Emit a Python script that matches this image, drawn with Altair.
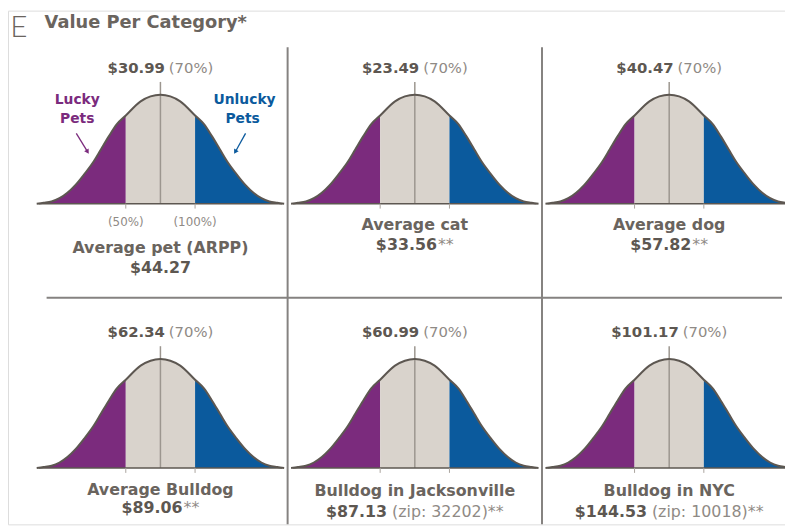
import altair as alt
import pandas as pd

# ---------------- values ----------------
panel_letter = "E"
chart_title = "Value Per Category*"
panel_titles = ["Average pet (ARPP)", "Average cat", "Average dog",
                "Average Bulldog", "Bulldog in Jacksonville", "Bulldog in NYC"]
lucky_values = ["$30.99", "$23.49", "$40.47", "$62.34", "$60.99", "$101.17"]
lucky_shares = ["(70%)", "(70%)", "(70%)", "(70%)", "(70%)", "(70%)"]
avg_values = ["$44.27", "$33.56", "$57.82", "$89.06", "$87.13", "$144.53"]
avg_notes = ["", "**", "**", "**", "(zip: 32202)**", "(zip: 10018)**"]
band_labels = ["(50%)", "(100%)"]
side_words = [["Lucky", "Pets"], ["Unlucky", "Pets"]]
segments = ["Lucky", "Middle", "Unlucky"]
segment_colors = ["#7b2b7d", "#d9d3cc", "#0b5a9d"]

# bell-curve outline: distance from centre (fraction of
# half-width) and height relative to the peak
shape_u = [0.0, 0.08, 0.16, 0.28, 0.352, 0.416, 0.48, 0.544, 0.616, 0.688, 0.752, 0.816, 0.88, 0.944, 1.0]
shape_h = [1.0, 0.985, 0.94, 0.81, 0.73, 0.62, 0.50, 0.38, 0.27, 0.17, 0.10, 0.05, 0.02, 0.008, 0.0]
band_edge = 0.28  # where the 50% and 100% marks sit

# ---------------- layout ----------------
W, H = 785, 519
COL_PX, ROW_PX, PEAK_PX, HALF_PX = 257, 267, 110, 125
CX0, BASE0 = 154, 195          # first panel centre / baseline in plot pixels
FONT = "DejaVu Sans"
DARK = "#5d5751"
MID = "#6a645e"
LIGHT = "#8f8a85"

xs = alt.Scale(domain=[-CX0 / COL_PX, (W - CX0) / COL_PX], nice=False, zero=False)
ys = alt.Scale(domain=[(BASE0 - H) / PEAK_PX, BASE0 / PEAK_PX], nice=False, zero=False)


def ux(col, dx_px=0.0):
    return col + dx_px / COL_PX


def uy(row, dy_px=0.0):
    return -row * ROW_PX / PEAK_PX + dy_px / PEAK_PX


BOLD_W = {**{d: .696 for d in "0123456789"}, "$": .696, ".": .38, " ": .348, "*": .523,
          "(": .457, ")": .457, "%": 1.002, ":": .4, "z": .58, "i": .343, "p": .716}
REG_W = {**{d: .636 for d in "0123456789"}, "$": .636, ".": .318, " ": .318, "*": .5,
         "(": .39, ")": .39, "%": .95, ":": .337, "z": .525, "i": .278, "p": .635}


def text_width(s, size, bold):
    table = BOLD_W if bold else REG_W
    return sum(table.get(ch, .65) for ch in s) * size


full_u = [-u for u in reversed(shape_u[1:])] + shape_u
full_h = list(reversed(shape_h[1:])) + shape_h
hw = HALF_PX / COL_PX

area_rows, line_rows, base_rows, centre_rows, tick_rows = [], [], [], [], []
top_b, top_n, t1_rows, v_b, v_n = [], [], [], [], []
title_dy = [45, 22, 22, 22, 23, 23]
value_dy = [65, 42, 42, 41, 45, 45]

for i in range(6):
    col, row = i % 3, i // 3
    base = uy(row)
    for u, h in zip(full_u, full_h):
        x = col + u * hw
        line_rows.append({"panel": i, "x": x, "y": base + h})
        if u <= -band_edge:
            area_rows.append({"panel": i, "seg": segments[0], "x": x, "y": base + h, "y0": base})
        if -band_edge <= u <= band_edge:
            area_rows.append({"panel": i, "seg": segments[1], "x": x, "y": base + h, "y0": base})
        if u >= band_edge:
            area_rows.append({"panel": i, "seg": segments[2], "x": x, "y": base + h, "y0": base})
    base_rows.append({"panel": i, "x": ux(col, -123), "x2": ux(col, 123), "y": base})
    centre_rows.append({"panel": i, "x": ux(col), "y": base, "y2": uy(row, 123)})
    for s in (-1, 1):
        tick_rows.append({"panel": i, "x": col + s * band_edge * hw, "y": base, "y2": uy(row, -5)})

    # top label: bold value + light share, centred together
    fs = 15
    wb = text_width(lucky_values[i], fs, True)
    wn = text_width(lucky_shares[i], fs, False)
    gap = 4
    left = CX0 + col * COL_PX - (wb + gap + wn) / 2
    top_b.append({"x": (left + wb - CX0) / COL_PX, "y": uy(row, 137.5), "t": lucky_values[i]})
    top_n.append({"x": (left + wb + gap - CX0) / COL_PX, "y": uy(row, 137.5), "t": lucky_shares[i]})

    t1_rows.append({"x": ux(col), "y": uy(row, -title_dy[i]), "t": panel_titles[i]})
    fs2 = 16
    if avg_notes[i]:
        wb = text_width(avg_values[i], fs2, True)
        wn = text_width(avg_notes[i], fs2, False)
        gap = 5 if avg_notes[i].startswith("(") else 1
        left = CX0 + col * COL_PX - (wb + gap + wn) / 2
        v_b.append({"x": (left + wb - CX0) / COL_PX, "y": uy(row, -value_dy[i]), "t": avg_values[i], "a": "right"})
        v_n.append({"x": (left + wb + gap - CX0) / COL_PX, "y": uy(row, -value_dy[i]), "t": avg_notes[i]})
    else:
        v_b.append({"x": ux(col), "y": uy(row, -value_dy[i]), "t": avg_values[i], "a": "center"})

X = lambda f="x": alt.X(f"{f}:Q", scale=xs, axis=None)
Y = lambda f="y": alt.Y(f"{f}:Q", scale=ys, axis=None)

areas = alt.Chart(pd.DataFrame(area_rows)).mark_area(interpolate="monotone").encode(
    x=X(), y=alt.Y("y:Q", scale=ys, axis=None, stack=None), y2="y0:Q",
    color=alt.Color("seg:N", scale=alt.Scale(domain=segments, range=segment_colors), legend=None),
    detail="panel:N",
)
centre = alt.Chart(pd.DataFrame(centre_rows)).mark_rule(color="#9c968f", strokeWidth=1.5).encode(
    x=X(), y=Y(), y2="y2:Q")
outline = alt.Chart(pd.DataFrame(line_rows)).mark_line(
    interpolate="monotone", color=DARK, strokeWidth=2).encode(x=X(), y=Y(), detail="panel:N")
baseline = alt.Chart(pd.DataFrame(base_rows)).mark_rule(color=DARK, strokeWidth=1.5).encode(
    x=X(), x2="x2:Q", y=Y())
ticks = alt.Chart(pd.DataFrame(tick_rows)).mark_rule(color="#aaa49e", strokeWidth=1).encode(
    x=X(), y=Y(), y2="y2:Q")

band_df = pd.DataFrame({"x": [-band_edge * hw, band_edge * hw], "y": [uy(0, -19)] * 2, "t": band_labels})
bands = alt.Chart(band_df).mark_text(font=FONT, fontSize=12, color=LIGHT).encode(
    x=X(), y=Y(), text="t:N")

# dividers between the panels
vdiv = alt.Chart(pd.DataFrame({"x": [0.5, 1.5], "y": [uy(0, 158)] * 2, "y2": [ys.domain[0]] * 2})).mark_rule(
    color="#858280", strokeWidth=2).encode(x=X(), y=Y(), y2="y2:Q")
hdiv = alt.Chart(pd.DataFrame({"x": [ux(0, -115)], "x2": [ux(2, 114)], "y": [uy(0, -95)]})).mark_rule(
    color="#858280", strokeWidth=2).encode(x=X(), x2="x2:Q", y=Y())

top_bold = alt.Chart(pd.DataFrame(top_b)).mark_text(
    font=FONT, fontSize=15, fontWeight="bold", color=DARK, align="right").encode(x=X(), y=Y(), text="t:N")
top_norm = alt.Chart(pd.DataFrame(top_n)).mark_text(
    font=FONT, fontSize=15, color=LIGHT, align="left").encode(x=X(), y=Y(), text="t:N")
titles1 = alt.Chart(pd.DataFrame(t1_rows)).mark_text(
    font=FONT, fontSize=16, fontWeight="bold", color=MID).encode(x=X(), y=Y(), text="t:N")
vb_df = pd.DataFrame(v_b)
vals_c = alt.Chart(vb_df[vb_df.a == "center"]).mark_text(
    font=FONT, fontSize=16, fontWeight="bold", color=DARK).encode(x=X(), y=Y(), text="t:N")
vals_r = alt.Chart(vb_df[vb_df.a == "right"]).mark_text(
    font=FONT, fontSize=16, fontWeight="bold", color=DARK, align="right").encode(x=X(), y=Y(), text="t:N")
notes = alt.Chart(pd.DataFrame(v_n)).mark_text(
    font=FONT, fontSize=16, color=LIGHT, align="left").encode(x=X(), y=Y(), text="t:N")

# "Lucky Pets" / "Unlucky Pets" call-outs in the first panel
side_df = pd.DataFrame({
    "x": [ux(0, -84), ux(0, -84), ux(0, 85), ux(0, 83)],
    "y": [uy(0, 105), uy(0, 85), uy(0, 105), uy(0, 85)],
    "t": [side_words[0][0], side_words[0][1], side_words[1][0], side_words[1][1]],
    "side": [segments[0], segments[0], segments[2], segments[2]],
})
side_text = alt.Chart(side_df).mark_text(font=FONT, fontSize=14, fontWeight="bold").encode(
    x=X(), y=Y(), text="t:N",
    color=alt.Color("side:N", scale=alt.Scale(domain=segments, range=segment_colors), legend=None))
arrow_df = pd.DataFrame({
    "x": [ux(0, -85), ux(0, 86)], "y": [uy(0, 71), uy(0, 71)],
    "x2": [ux(0, -74), ux(0, 76)], "y2": [uy(0, 53), uy(0, 53)],
    "ang": [148, 210], "side": [segments[0], segments[2]],
})
arrow_col = alt.Color("side:N", scale=alt.Scale(domain=segments, range=segment_colors), legend=None)
arrow_lines = alt.Chart(arrow_df).mark_rule(strokeWidth=1.3).encode(
    x=X(), y=Y(), x2="x2:Q", y2="y2:Q", color=arrow_col)
arrow_heads = alt.Chart(arrow_df).mark_point(shape="triangle", filled=True, size=28, opacity=1).encode(
    x=X("x2"), y=Y("y2"), angle=alt.Angle("ang:Q", scale=None), color=arrow_col)

head_letter = alt.Chart(pd.DataFrame({"x": [ux(0, -143)], "y": [uy(0, 177)], "t": [panel_letter]})).mark_text(
    font="Lato", fontSize=30, fontWeight=300, color=MID).encode(x=X(), y=Y(), text="t:N")
head_title = alt.Chart(pd.DataFrame({"x": [ux(0, -117)], "y": [uy(0, 182)], "t": [chart_title]})).mark_text(
    font=FONT, fontSize=18, fontWeight="bold", color=MID, align="left").encode(x=X(), y=Y(), text="t:N")

chart = alt.layer(
    areas, centre, outline, baseline, ticks, bands, vdiv, hdiv,
    top_bold, top_norm, titles1, vals_c, vals_r, notes,
    side_text, arrow_lines, arrow_heads, head_letter, head_title,
).properties(width=W, height=H, padding=0, autosize=alt.AutoSizeParams(type="none")).configure_view(
    strokeWidth=0, stroke="transparent").configure(background="white")

chart.save("out.html", embed_options={"renderer": "svg", "actions": False})
